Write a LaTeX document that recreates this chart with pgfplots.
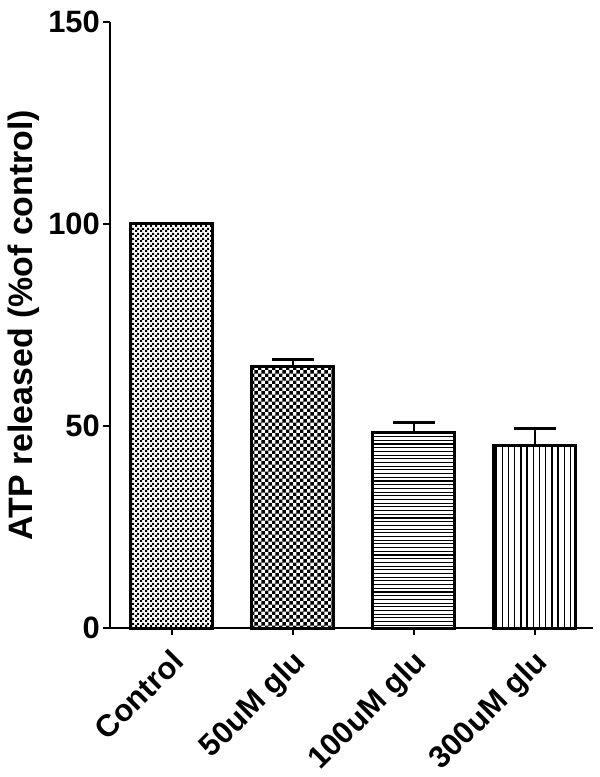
\documentclass[border=0pt]{standalone}
\usepackage{pgfplots}
\pgfplotsset{compat=1.18}
\usepackage{fontspec}
\setmainfont{Liberation Sans}
\usetikzlibrary{patterns}
\pgfdeclarepatternformonly{finecheck}{\pgfpointorigin}{\pgfqpoint{5bp}{5bp}}{\pgfqpoint{5bp}{5bp}}{%
  \pgfpathrectangle{\pgfpointorigin}{\pgfqpoint{2.5bp}{2.5bp}}%
  \pgfpathrectangle{\pgfqpoint{2.5bp}{2.5bp}}{\pgfqpoint{2.5bp}{2.5bp}}%
  \pgfusepath{fill}}
\pgfdeclarepatternformonly{coarsecheck}{\pgfpointorigin}{\pgfqpoint{7.4bp}{7.4bp}}{\pgfqpoint{7.4bp}{7.4bp}}{%
  \pgfpathrectangle{\pgfpointorigin}{\pgfqpoint{3.7bp}{3.7bp}}%
  \pgfpathrectangle{\pgfqpoint{3.7bp}{3.7bp}}{\pgfqpoint{3.7bp}{3.7bp}}%
  \pgfusepath{fill}}
\pgfdeclarepatternformonly{hlines}{\pgfqpoint{-1bp}{-1bp}}{\pgfqpoint{1bp}{4.7bp}}{\pgfqpoint{1bp}{3.7bp}}{%
  \pgfsetlinewidth{1.1bp}%
  \pgfpathmoveto{\pgfqpoint{-0.5bp}{0bp}}\pgfpathlineto{\pgfqpoint{1.5bp}{0bp}}%
  \pgfusepath{stroke}}
\pgfdeclarepatternformonly{vlines}{\pgfqpoint{-1bp}{-1bp}}{\pgfqpoint{7.2bp}{1bp}}{\pgfqpoint{6.2bp}{1bp}}{%
  \pgfsetlinewidth{1.4bp}%
  \pgfpathmoveto{\pgfqpoint{0bp}{-0.5bp}}\pgfpathlineto{\pgfqpoint{0bp}{1.5bp}}%
  \pgfusepath{stroke}}
\begin{document}
\begin{tikzpicture}
\useasboundingbox (-110bp,-149bp) rectangle (490bp,628bp);
\begin{axis}[
  at={(0,0)}, anchor=south west,
  scale only axis,
  width=483bp, height=606bp,
  xmin=-0.512, xmax=3.48,
  ymin=0, ymax=150,
  axis lines*=left,
  axis line style={-, line width=2bp},
  ytick={0,50,100,150},
  xtick={0,1,2,3},
  xticklabels={Control,50uM glu,100uM glu,300uM glu},
  tick align=outside,
  major tick length=7bp,
  tick style={line width=2bp, black},
  every tick label/.append style={font=\fontsize{31}{33}\selectfont\bfseries},
  /pgf/number format/assume math mode=true,
  xticklabel style={rotate=45, anchor=north east, inner sep=0bp, yshift=-7.4bp, xshift=-10.6bp},
  yticklabel style={inner sep=3bp},
  ylabel={\fontsize{34}{36}\selectfont\bfseries ATP released (\%of control)},
  ylabel style={at={(axis description cs:0,0.5)}, anchor=center, rotate=0, yshift=86bp},
  ybar, bar width=82bp, bar shift=0pt,
  clip=false,
]
\addplot[draw=black, line width=3bp, pattern=finecheck] coordinates {(0,100)};
\addplot[draw=black, line width=3bp, pattern=coarsecheck,
  error bars/.cd, y dir=plus, y explicit,
  error bar style={line width=2.2bp},
  error mark options={rotate=90, mark size=21bp, line width=2.5bp}]
  coordinates {(1,64.7) +- (0,1.8)};
\addplot[draw=black, line width=3bp, pattern=hlines,
  error bars/.cd, y dir=plus, y explicit,
  error bar style={line width=2.2bp},
  error mark options={rotate=90, mark size=21bp, line width=2.5bp}]
  coordinates {(2,48.4) +- (0,2.5)};
\addplot[draw=black, line width=3bp, pattern=vlines,
  error bars/.cd, y dir=plus, y explicit,
  error bar style={line width=2.2bp},
  error mark options={rotate=90, mark size=21bp, line width=2.5bp}]
  coordinates {(3,45.1) +- (0,4.3)};
\end{axis}
\end{tikzpicture}
\end{document}
